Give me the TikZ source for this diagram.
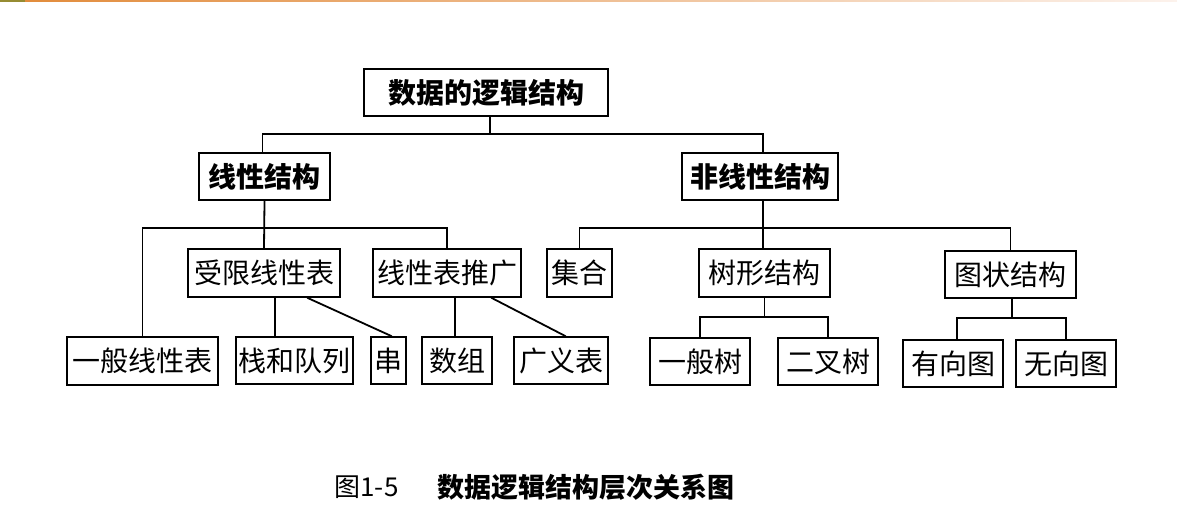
\documentclass[tikz,border=0pt]{standalone}
\usepackage{fontspec}
\newfontfamily\cjk{Noto Sans CJK SC}
\definecolor{barA}{RGB}{150,140,50}
\definecolor{barB}{RGB}{226,140,60}
\definecolor{barC}{RGB}{252,242,236}
\tikzset{
  box/.style={draw=black, line width=2.2pt, inner sep=0pt, fill=white},
  bbox/.style={box, font=\cjk\bfseries\fontsize{28}{34}\selectfont},
  rbox/.style={box, font=\cjk\fontsize{28}{34}\selectfont},
  conn/.style={line width=1.8pt, line cap=rect}
}
\begin{document}
\begin{tikzpicture}[x=1pt,y=-1pt]
\useasboundingbox (0,0) rectangle (1177,521);
\fill[barA] (0,0) rectangle (25,2);
\shade[left color=barB, right color=barC] (25,0) rectangle (1177,2);

% level 0 and 1
\node[bbox, minimum width=244, minimum height=47] (root) at (486,92.5) {数据的逻辑结构};
\node[bbox, minimum width=131, minimum height=47] (lin) at (264.5,176.5) {线性结构};
\node[bbox, minimum width=156, minimum height=47] (nonlin) at (760,176.5) {非线性结构};

% level 2
\node[rbox, minimum width=152, minimum height=48] (shouxian) at (264,273) {受限线性表};
\node[rbox, minimum width=148, minimum height=48] (tuiguang) at (447,273) {线性表推广};
\node[rbox, minimum width=65, minimum height=48] (jihe) at (579.5,273) {集合};
\node[rbox, minimum width=131, minimum height=48] (shuxing) at (764.5,273) {树形结构};
\node[rbox, minimum width=131, minimum height=47] (tuzhuang) at (1010.5,274.5) {图状结构};

% level 3
\node[rbox, minimum width=151, minimum height=48] (yiban) at (142.5,361) {一般线性表};
\node[rbox, minimum width=117, minimum height=47] (zhan) at (294.5,360.5) {栈和队列};
\node[rbox, minimum width=35, minimum height=47] (chuan) at (388.5,360.5) {串};
\node[rbox, minimum width=70, minimum height=47] (shuzu) at (457,360.5) {数组};
\node[rbox, minimum width=94, minimum height=47] (guangyi) at (561,360.5) {广义表};
\node[rbox, minimum width=100, minimum height=47] (yibanshu) at (700,361.5) {一般树};
\node[rbox, minimum width=100, minimum height=47] (erchashu) at (828,361.5) {二叉树};
\node[rbox, minimum width=100, minimum height=47] (youxiang) at (953,363.5) {有向图};
\node[rbox, minimum width=100, minimum height=47] (wuxiang) at (1066,363.5) {无向图};

% connectors
\draw[conn] ([xshift=4]root.south) -- ++(0,16.8);
\draw[conn] ([xshift=-2]lin.north) -- ++(0,-18) -| ([xshift=3]nonlin.north);
\draw[conn] (lin.south) -- (shouxian.north);
\draw[conn] (yiban.north) -- ++(0,-108) -| (tuiguang.north);
\draw[conn] ([xshift=11]shouxian.south) -- ([xshift=11]shouxian.south |- zhan.north);
\draw[conn] ([xshift=44]shouxian.south) -- ([xshift=2.5]chuan.north);
\draw[conn] ([xshift=8]tuiguang.south) -- ([xshift=8]tuiguang.south |- shuzu.north);
\draw[conn] ([xshift=45]tuiguang.south) -- ([xshift=4]guangyi.north);
\draw[conn] ([xshift=3]nonlin.south) -- ([xshift=3]nonlin.south |- shuxing.north);
\draw[conn] (jihe.north) -- ++(0,-20) -| (tuzhuang.north);
\draw[conn] (shuxing.south) -- ++(0,18.8);
\draw[conn] (yibanshu.north) -- ++(0,-20) -| (erchashu.north);
\draw[conn] ([xshift=1.5]tuzhuang.south) -- ++(0,18.8);
\draw[conn] ([xshift=4]youxiang.north) -- ++(0,-21) -| (wuxiang.north);

% caption
\node[font=\cjk\fontsize{26}{30}\selectfont, inner sep=0pt] (capnum) at (366.5,487) {图1-5};
\node[font=\cjk\bfseries\fontsize{27}{30}\selectfont, inner sep=0pt] (captext) at (586,487) {数据逻辑结构层次关系图};
\end{tikzpicture}
\end{document}
